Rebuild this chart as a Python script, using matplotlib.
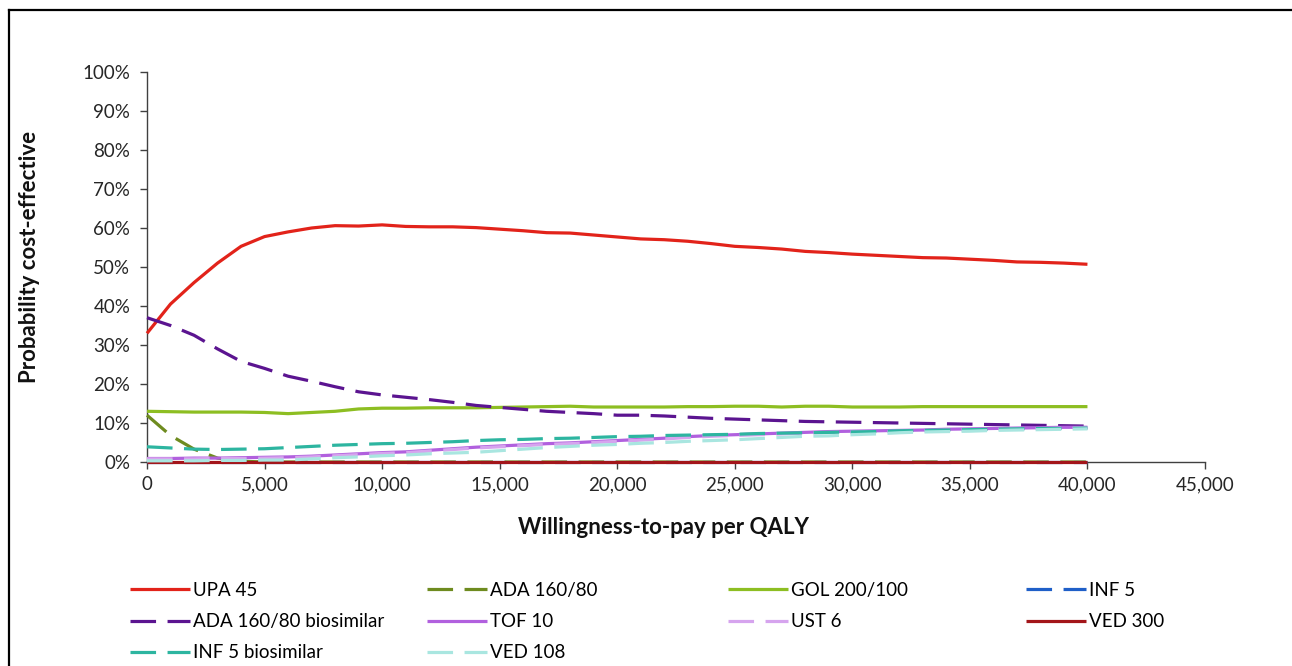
import matplotlib
matplotlib.use("Agg")
import matplotlib.pyplot as plt
from matplotlib.lines import Line2D
from matplotlib.ticker import FuncFormatter, MultipleLocator
import numpy as np

plt.rcParams['font.family'] = ['Lato', 'DejaVu Sans']

# Willingness-to-pay grid (per QALY)
wtp = list(range(0, 40001, 1000))

# Probability cost-effective (%) per treatment
upa_45 = [33.0, 40.5, 46.0, 51.0, 55.3, 57.8, 59.0, 60.0, 60.6, 60.5, 60.8, 60.4, 60.3, 60.3,
          60.1, 59.7, 59.3, 58.8, 58.7, 58.2, 57.7, 57.2, 57.0, 56.6, 56.0, 55.3, 55.0, 54.6,
          54.0, 53.7, 53.3, 53.0, 52.7, 52.4, 52.3, 52.0, 51.7, 51.3, 51.2, 51.0, 50.7]
ada_160 = [12.0, 6.8, 3.3, 1.0, 0.2] + [0.0] * 36
gol_200 = [13.0, 12.9, 12.8, 12.8, 12.8, 12.7, 12.4, 12.7, 13.0, 13.6, 13.8, 13.8, 13.9, 13.9,
           13.9, 14.0, 14.1, 14.2, 14.3, 14.1, 14.1, 14.1, 14.1, 14.2, 14.2, 14.3, 14.3, 14.1,
           14.3, 14.3, 14.1, 14.1, 14.1, 14.2, 14.2, 14.2, 14.2, 14.2, 14.2, 14.2, 14.2]
inf_5 = [0.0] * 41
ada_bios = [37.0, 35.0, 32.5, 29.0, 25.8, 24.0, 22.0, 20.7, 19.3, 18.0, 17.2, 16.6, 16.0, 15.3,
            14.5, 14.0, 13.5, 13.0, 12.7, 12.4, 12.0, 12.0, 11.8, 11.5, 11.2, 11.0, 10.8, 10.6,
            10.4, 10.3, 10.2, 10.1, 10.0, 9.9, 9.8, 9.7, 9.6, 9.5, 9.4, 9.3, 9.2]
tof_10 = [0.9, 0.9, 1.0, 1.0, 1.1, 1.2, 1.3, 1.5, 1.8, 2.1, 2.4, 2.6, 3.0, 3.4, 3.8, 4.1, 4.4,
          4.7, 4.9, 5.2, 5.5, 5.8, 6.1, 6.5, 6.8, 7.0, 7.2, 7.4, 7.6, 7.8, 7.9, 8.0, 8.1, 8.2,
          8.4, 8.5, 8.6, 8.7, 8.8, 8.9, 8.9]
ust_6 = [0.8, 0.8, 0.8, 0.9, 0.9, 1.0, 1.1, 1.3, 1.6, 1.9, 2.2, 2.4, 2.8, 3.2, 3.6, 3.9, 4.2,
         4.5, 4.7, 5.0, 5.3, 5.6, 5.9, 6.3, 6.6, 6.8, 7.0, 7.2, 7.4, 7.6, 7.7, 7.8, 7.9, 8.0,
         8.2, 8.3, 8.4, 8.5, 8.6, 8.7, 8.8]
ved_300 = [0.0] * 41
inf_5_bios = [3.9, 3.6, 3.3, 3.2, 3.3, 3.4, 3.7, 4.0, 4.3, 4.5, 4.7, 4.8, 5.0, 5.2, 5.5, 5.7,
              5.8, 6.0, 6.1, 6.3, 6.5, 6.6, 6.8, 6.9, 7.0, 7.1, 7.3, 7.4, 7.5, 7.6, 7.7, 7.8,
              8.0, 8.1, 8.2, 8.3, 8.4, 8.5, 8.6, 8.6, 8.7]
ved_108 = [0.3, 0.3, 0.3, 0.4, 0.4, 0.5, 0.5, 0.8, 1.1, 1.3, 1.6, 1.8, 2.1, 2.3, 2.5, 2.9, 3.3,
           3.7, 4.0, 4.3, 4.5, 4.8, 5.0, 5.3, 5.5, 5.7, 6.0, 6.3, 6.6, 6.7, 7.0, 7.2, 7.5, 7.7,
           7.8, 7.9, 8.1, 8.2, 8.3, 8.4, 8.5]

W, H = 1292, 666
fig = plt.figure(figsize=(W / 100, H / 100), dpi=100)
ax = fig.add_axes([147 / W, 1 - 462 / H, (1205 - 147) / W, (462 - 72) / H])

lw = 2.3
dash = (0, (8, 3.6))
series = [
    ("UPA 45", upa_45, "#E2231A", "-"),
    ("ADA 160/80", ada_160, "#6E8B1F", dash),
    ("GOL 200/100", gol_200, "#8DBE22", "-"),
    ("INF 5", inf_5, "#1F5FC8", dash),
    ("ADA 160/80 biosimilar", ada_bios, "#5B1490", dash),
    ("TOF 10", tof_10, "#B160DE", "-"),
    ("UST 6", ust_6, "#D6A4EE", dash),
    ("VED 300", ved_300, "#A3151A", "-"),
    ("INF 5 biosimilar", inf_5_bios, "#2DB5A0", dash),
    ("VED 108", ved_108, "#A9E6E0", dash),
]

lines = {}
for i, (name, vals, col, ls) in enumerate(series):
    ln, = ax.plot(wtp, np.array(vals) / 100, color=col, lw=lw, linestyle=ls,
                  clip_on=False, zorder=3 + i * 0.1, solid_capstyle="butt",
                  dash_capstyle="butt")
    lines[name] = ln

ax.set_xlim(0, 45000)
ax.set_ylim(0, 1)
ax.xaxis.set_major_locator(MultipleLocator(5000))
ax.yaxis.set_major_locator(MultipleLocator(0.1))
ax.xaxis.set_major_formatter(FuncFormatter(lambda v, p: f"{int(v):,}"))
ax.yaxis.set_major_formatter(FuncFormatter(lambda v, p: f"{v * 100:.0f}%"))

for s in ["top", "right"]:
    ax.spines[s].set_visible(False)
for s in ["left", "bottom"]:
    ax.spines[s].set_color("#404040")
    ax.spines[s].set_linewidth(1.0)
ax.tick_params(axis="both", direction="out", length=5, width=1.0, color="#404040",
               labelsize=13.5, labelcolor="#262626")
ax.tick_params(axis="y", pad=7)
ax.tick_params(axis="x", pad=5)

ax.set_xlabel("Willingness-to-pay per QALY", fontsize=16, fontweight="bold",
              color="#111111", va="center")
ax.set_ylabel("Probability cost-effective", fontsize=16, fontweight="bold",
              color="#111111", va="center")
ax.xaxis.set_label_coords((664 - 147) / 1058, -(527 - 462) / 390)
ax.yaxis.set_label_coords(-(147 - 30) / 1058, (462 - 257) / 390)

# legend laid out in four columns like the original
columns = [
    (130, ["UPA 45", "ADA 160/80 biosimilar", "INF 5 biosimilar"]),
    (427, ["ADA 160/80", "TOF 10", "VED 108"]),
    (728, ["GOL 200/100", "UST 6"]),
    (1026, ["INF 5", "VED 300"]),
]
for xpx, names in columns:
    fig.legend([lines[n] for n in names], names, loc="upper left",
               bbox_to_anchor=(xpx / W, 1 - 582 / H), frameon=False,
               borderpad=0, borderaxespad=0, handlelength=3.2, handletextpad=0.15,
               labelspacing=0.75, fontsize=13.5)

# outer frame
fig.add_artist(Line2D([9 / W, 1], [1 - 10 / H, 1 - 10 / H], color="black", lw=1.6))
fig.add_artist(Line2D([9 / W, 9 / W], [0, 1 - 10 / H], color="black", lw=1.6))

fig.savefig("out.png", dpi=100)
